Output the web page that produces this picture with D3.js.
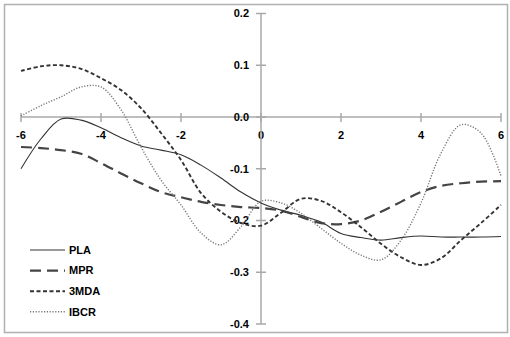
<!DOCTYPE html>
<html>
<head>
<meta charset="utf-8">
<script src="https://cdn.jsdelivr.net/npm/d3@7"></script>
<style>
  body { margin: 0; background: #fff; }
  text { font-family: "Liberation Sans", Arial, sans-serif; font-weight: bold; font-size: 11px; fill: #000; }
</style>
</head>
<body>
<div class="graph"></div>
<script>
// Data
var xs    = [-6, -5.5, -5, -4.5, -4, -3.5, -3, -2.5, -2, -1.5, -1, -0.5, 0, 0.5, 1, 1.5, 2, 2.5, 3, 3.5, 4, 4.5, 5, 5.5, 6];
var pla   = [-0.10, -0.042, -0.004, -0.006, -0.021, -0.04, -0.056, -0.064, -0.073, -0.093, -0.118, -0.145, -0.166, -0.18, -0.19, -0.203, -0.225, -0.233, -0.238, -0.233, -0.23, -0.232, -0.232, -0.232, -0.231];
var mpr   = [-0.058, -0.06, -0.064, -0.071, -0.089, -0.109, -0.128, -0.145, -0.155, -0.164, -0.17, -0.174, -0.176, -0.181, -0.193, -0.205, -0.207, -0.2, -0.183, -0.164, -0.145, -0.133, -0.128, -0.125, -0.124];
var mda   = [0.089, 0.098, 0.1, 0.093, 0.075, 0.052, 0.017, -0.031, -0.083, -0.147, -0.183, -0.205, -0.21, -0.185, -0.158, -0.162, -0.184, -0.213, -0.245, -0.271, -0.286, -0.273, -0.238, -0.205, -0.17];
var ibcr  = [0.002, 0.022, 0.039, 0.058, 0.058, 0.014, -0.058, -0.122, -0.17, -0.224, -0.247, -0.212, -0.163, -0.166, -0.186, -0.215, -0.244, -0.267, -0.276, -0.238, -0.166, -0.07, -0.015, -0.031, -0.114];
var seriesNames = ["PLA", "MPR", "3MDA", "IBCR"];
var xTicks = [-6, -4, -2, 0, 2, 4, 6];
var yTicks = [0.2, 0.1, 0.0, -0.1, -0.2, -0.3, -0.4];

var width = 510, height = 337;

var svg = d3.select(".graph").append("svg")
    .attr("width", width)
    .attr("height", height);

// chart area border
svg.append("rect")
    .attr("x", 4.5).attr("y", 4.5)
    .attr("width", 503).attr("height", 328)
    .attr("fill", "none")
    .attr("stroke", "#b0b0b0")
    .attr("stroke-width", 1.5);

// Scales
var x = d3.scaleLinear().domain([-6, 6]).range([21, 501]);
var y = d3.scaleLinear().domain([-0.4, 0.2]).range([324, 13.5]);

var axisColor = "#a8a8a8";

// x axis along y = 0
var gx = svg.append("g").attr("transform", "translate(0," + y(0) + ")");
gx.append("line")
    .attr("x1", x(-6)).attr("x2", x(6))
    .attr("stroke", axisColor).attr("stroke-width", 1.5);
gx.selectAll(".xt").data(xTicks).enter().append("line")
    .attr("x1", function(d) { return x(d); })
    .attr("x2", function(d) { return x(d); })
    .attr("y1", -4).attr("y2", 5)
    .attr("stroke", axisColor).attr("stroke-width", 1.5);
gx.selectAll(".xl").data(xTicks).enter().append("text")
    .attr("x", function(d) { return x(d); })
    .attr("y", 18)
    .attr("dy", "0.35em")
    .attr("text-anchor", "middle")
    .text(function(d) { return d; });

// y axis along x = 0
var gy = svg.append("g").attr("transform", "translate(" + x(0) + ",0)");
gy.append("line")
    .attr("y1", y(0.2)).attr("y2", y(-0.4))
    .attr("stroke", axisColor).attr("stroke-width", 1.5);
gy.selectAll(".yt").data(yTicks).enter().append("line")
    .attr("x1", -5).attr("x2", 5)
    .attr("y1", function(d) { return y(d); })
    .attr("y2", function(d) { return y(d); })
    .attr("stroke", axisColor).attr("stroke-width", 1.5);
gy.selectAll(".yl").data(yTicks).enter().append("text")
    .attr("x", -12)
    .attr("y", function(d) { return y(d); })
    .attr("dy", "0.35em")
    .attr("text-anchor", "end")
    .text(function(d) { return d3.format(".1f")(d).replace("−", "-"); });

// Series
var styles = [
  {values: pla,  stroke: "#333", width: 1.1, dash: null},
  {values: mpr,  stroke: "#444", width: 2.2, dash: "11,6"},
  {values: mda,  stroke: "#333", width: 1.9, dash: "4,2.5"},
  {values: ibcr, stroke: "#777", width: 1.4, dash: "1.2,1.6"}
];

var line = d3.line()
    .x(function(d) { return x(d[0]); })
    .y(function(d) { return y(d[1]); })
    .curve(d3.curveCatmullRom.alpha(0.5));

styles.forEach(function(s) {
  svg.append("path")
      .datum(xs.map(function(v, i) { return [v, s.values[i]]; }))
      .attr("fill", "none")
      .attr("stroke", s.stroke)
      .attr("stroke-width", s.width)
      .attr("stroke-dasharray", s.dash)
      .attr("d", line);
});

// Legend
var legend = svg.append("g");
seriesNames.forEach(function(name, i) {
  var ly = 250 + i * 20.6;
  legend.append("line")
      .attr("x1", 30).attr("x2", 65)
      .attr("y1", ly).attr("y2", ly)
      .attr("stroke", styles[i].stroke)
      .attr("stroke-width", styles[i].width)
      .attr("stroke-dasharray", styles[i].dash);
  legend.append("text")
      .attr("x", 69)
      .attr("y", ly)
      .attr("dy", "0.35em")
      .text(name);
});
</script>
</body>
</html>
